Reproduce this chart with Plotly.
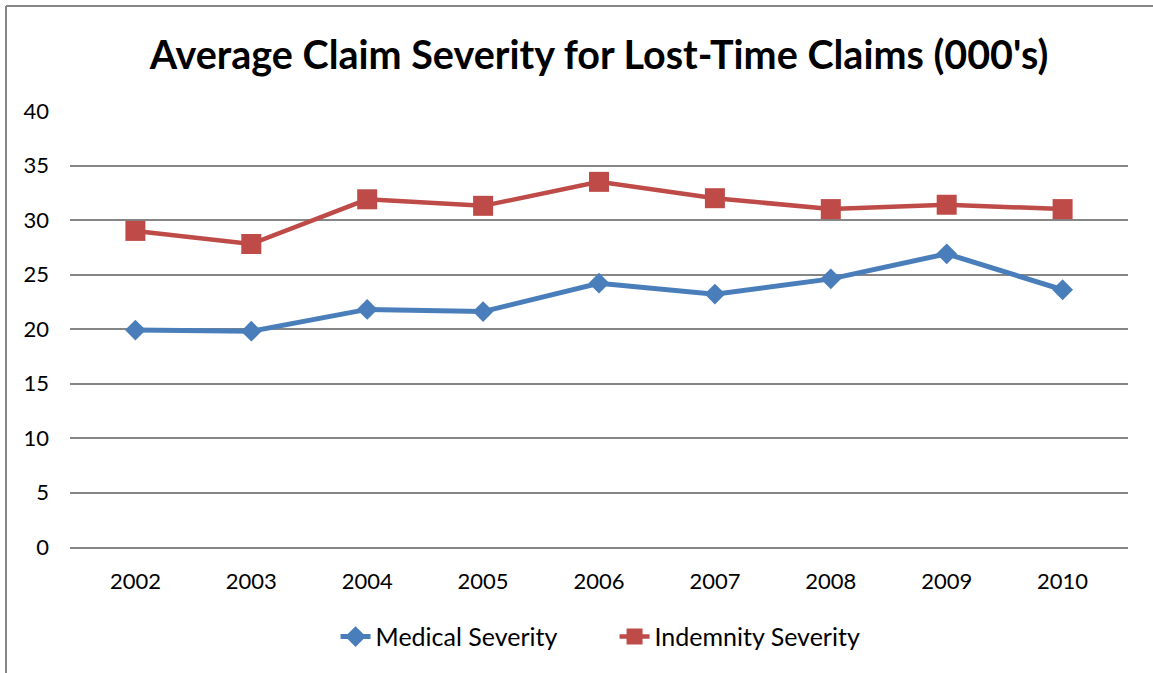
import plotly.graph_objects as go

# data
years = ["2002", "2003", "2004", "2005", "2006", "2007", "2008", "2009", "2010"]
medical_severity = [19.9, 19.8, 21.8, 21.6, 24.2, 23.2, 24.6, 26.9, 23.6]
indemnity_severity = [29.0, 27.8, 31.9, 31.3, 33.5, 32.0, 31.0, 31.4, 31.0]

BLUE = "#4A7EBB"
RED = "#BE4B48"
GRID = "#868686"
FONT = "Lato, 'Open Sans', sans-serif"

fig = go.Figure()

fig.add_trace(go.Scatter(
    x=years,
    y=medical_severity,
    mode="lines+markers",
    name="Medical Severity",
    line=dict(color=BLUE, width=5),
    marker=dict(symbol="diamond", size=16, color=BLUE),
))

fig.add_trace(go.Scatter(
    x=years,
    y=indemnity_severity,
    mode="lines+markers",
    name="Indemnity Severity",
    line=dict(color=RED, width=4.5),
    marker=dict(symbol="square", size=20, color=RED),
))

# chart-area border (only top and left edges show in the reference)
border_x = -64 / 1058
border_top = (547 - 6) / 436
fig.add_shape(type="line", xref="paper", yref="paper",
              x0=border_x, x1=1.03, y0=border_top, y1=border_top,
              line=dict(color=GRID, width=2), layer="below")
fig.add_shape(type="line", xref="paper", yref="paper",
              x0=border_x, x1=border_x, y0=border_top, y1=-0.3,
              line=dict(color=GRID, width=2), layer="below")

fig.update_layout(
    width=1153,
    height=673,
    autosize=False,
    margin=dict(l=70, r=25, t=111, b=126),
    paper_bgcolor="white",
    plot_bgcolor="white",
    font=dict(family=FONT, size=22, color="black"),
    title=dict(
        text="<b>Average Claim Severity for Lost-Time Claims (000's)</b>",
        font=dict(family=FONT, size=39.5, color="black"),
        x=0.5, xref="paper", xanchor="center",
        y=1 - 55 / 673, yref="container", yanchor="middle",
    ),
    showlegend=True,
    legend=dict(
        orientation="h",
        x=0.251, xanchor="left",
        y=-0.206, yanchor="middle",
        font=dict(family=FONT, size=25, color="black"),
        entrywidth=234,
        entrywidthmode="pixels",
        bgcolor="rgba(0,0,0,0)",
    ),
    xaxis=dict(
        type="category",
        showgrid=False,
        showline=True,
        linecolor=GRID,
        linewidth=1.5,
        ticks="",
        ticklabelstandoff=14,
        tickfont=dict(family=FONT, size=22, color="black"),
    ),
    yaxis=dict(
        range=[0, 40],
        dtick=5,
        showgrid=True,
        gridcolor=GRID,
        gridwidth=1.5,
        zeroline=False,
        showline=False,
        ticks="",
        ticklabelstandoff=20,
        tickfont=dict(family=FONT, size=22, color="black"),
    ),
)

# drop the default page margin so the figure sits at the window's corner
fig.write_html(
    "out.html",
    config={"displayModeBar": False},
    post_script="document.body.style.margin='0';",
)
